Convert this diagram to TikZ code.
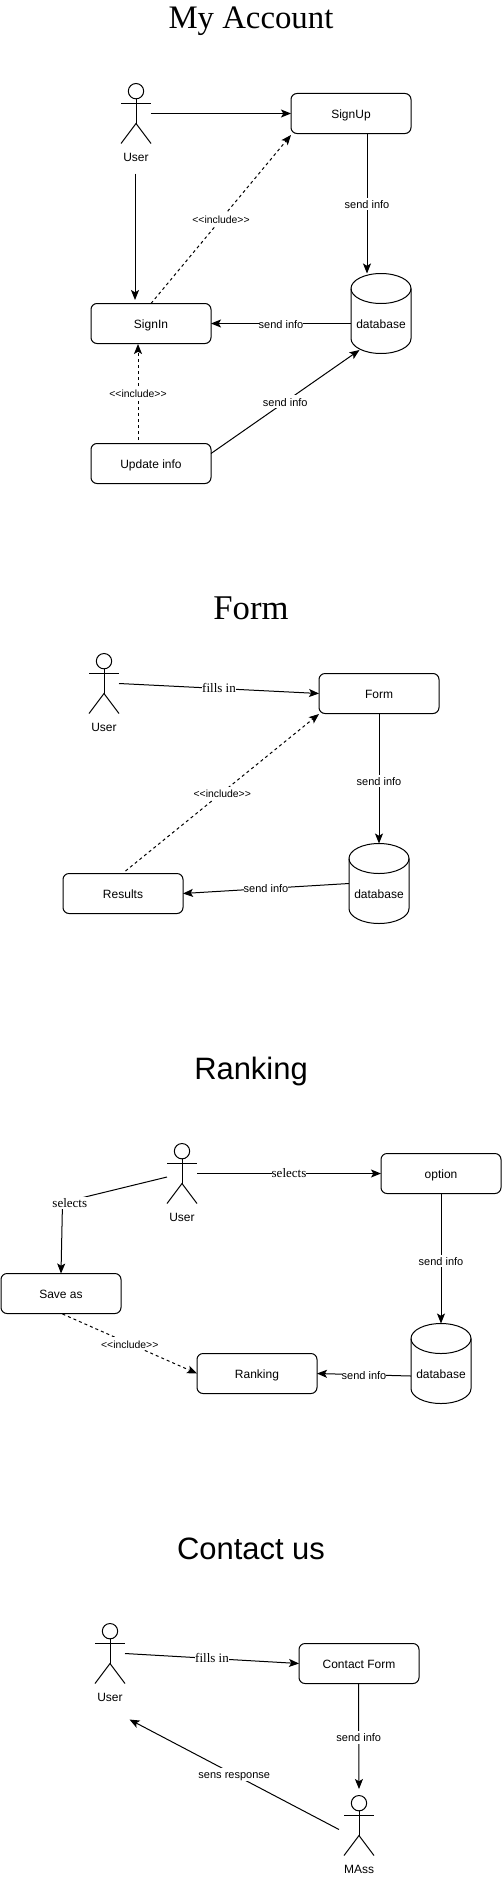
\documentclass[tikz,border=0pt]{standalone}
\usepackage{fontspec}
\setmainfont{Liberation Sans}
\newfontfamily\serifface{Liberation Serif}
\usetikzlibrary{arrows.meta}
\newcommand{\pxfont}[1]{\fontsize{#1}{#1}\selectfont}
\tikzset{
  x=0.75pt,y=-0.75pt,
  base/.style={line width=0.75pt,draw=black},
  ubox/.style={base,rounded corners=4.5pt,minimum width=90pt,minimum height=30pt,inner sep=0pt,outer sep=0pt,font=\pxfont{9pt},text height=9.2pt,text depth=2pt},
  frame/.style={inner sep=0pt,outer sep=0pt},
  plain/.style={inner sep=0pt,outer sep=0pt,font=\pxfont{9pt},text height=9.2pt,text depth=2pt},
  flow/.style={base,-{Stealth[length=7.5pt,width=6pt,inset=1.7pt]}},
  dflow/.style={flow,dash pattern=on 2.25pt off 2.25pt},
  lab/.style={fill=white,inner sep=0pt,outer sep=0pt,font=\pxfont{8.25pt},text height=7.9pt,text depth=1.5pt},
  inc/.style={lab,font=\pxfont{7.8pt}},
  slab/.style={lab,font=\serifface\pxfont{9.75pt}},
  serif title/.style={inner sep=0pt,anchor=base,font=\serifface\pxfont{24.6pt}},
  form title/.style={inner sep=0pt,anchor=base,font=\serifface\pxfont{26pt}},
  sans title/.style={inner sep=0pt,anchor=base,font=\pxfont{23.2pt}},
}
% actor: invisible frame 30x60 with a stick figure, caption below
\newcommand{\actorfig}[4]{% name, x, y, caption
  \node[frame,minimum width=22.5pt,minimum height=45pt] (#1) at (#2,#3) {};
  \draw[base] ([yshift=-5.75pt]#1.north) circle (5.75pt);
  \draw[base] (#1.west |- 0,#3-10) -- (#1.east |- 0,#3-10);
  \draw[base] ([yshift=-11.5pt]#1.north) -- (#2,#3+10);
  \draw[base] (#1.south west) -- (#2,#3+10) -- (#1.south east);
  \node[plain] (#1cap) at (#2,#3+43) {#4};
}
% cylinder: frame 60x80, text sits 10px under the centre
\newcommand{\cylfig}[3]{% name, x, y
  \node[frame,minimum width=45pt,minimum height=60pt] (#1) at (#2,#3) {};
  \draw[base,fill=white] ([yshift=-11.25pt]#1.north west) arc[start angle=180,end angle=0,x radius=22.5pt,y radius=11.25pt]
     -- ([yshift=11.25pt]#1.south east) arc[start angle=0,end angle=-180,x radius=22.5pt,y radius=11.25pt] -- cycle;
  \draw[base] ([yshift=-11.25pt]#1.north west) arc[start angle=180,end angle=360,x radius=22.5pt,y radius=11.25pt];
  \node[plain] (#1txt) at (#2,#3+10) {database};
}
\begin{document}
\begin{tikzpicture}
\useasboundingbox[fill=white] (-0.5,0) rectangle (500.5,1877);

% --- My Account
\node[serif title] (t1) at (250.5,28.5) {My Account};
\actorfig{a1}{135.5}{113.5}{User}
\node[ubox] (su) at (350.5,113.5) {SignUp};
\node[ubox] (si) at (150.5,323.5) {SignIn};
\node[ubox] (up) at (150.5,463.5) {Update info};
\cylfig{db1}{380.5}{313.5}
\draw[flow] (a1.east) -- (su.west);
\draw[flow] ([shift={(-1,30)}]a1.south) -- ([shift={(-16,-3.5)}]si.north);
\draw[flow] ([shift={(16,0)}]su.south) -- node[lab,pos=0.504]{send info} ([shift={(-14,0)}]db1.north);
\draw[dflow] (si.north) -- node[inc,pos=0.5]{<{}<include>{}>} ([shift={(0,1.5)}]su.south west);
\draw[flow] ([shift={(0,10)}]db1.west) -- node[lab,pos=0.5,shift={(0,1)}]{send info} (si.east);
\draw[dflow] ([shift={(-13,-3.5)}]up.north) -- node[inc,pos=0.49]{<{}<include>{}>} ([shift={(-13,0.5)}]si.south);
\draw[flow] ([shift={(0,-10)}]up.east) -- node[lab,pos=0.5]{send info} ([shift={(-21.5,-3.5)}]db1.south);

% --- Form
\node[form title] (t2) at (250.5,619.5) {Form};
\actorfig{a2}{103.5}{683.5}{User}
\node[ubox] (fo) at (378.5,693.5) {Form};
\node[ubox] (re) at (122.5,893.5) {Results};
\cylfig{db2}{378.5}{883.5}
\draw[flow] (a2.east) -- node[slab,pos=0.5]{fills in} (fo.west);
\draw[flow] (fo.south) -- node[lab,pos=0.52]{send info} (db2.north);
\draw[flow] (db2.west) -- node[lab,pos=0.5]{send info} (re.east);
\draw[dflow] ([shift={(2.5,-2.5)}]re.north) -- node[inc,pos=0.5,shift={(0,1)}]{<{}<include>{}>} ([shift={(0,0.5)}]fo.south west);

% --- Ranking
\node[sans title] (t3) at (250.5,1079) {Ranking};
\actorfig{a3}{181.5}{1173.5}{User}
\node[ubox] (op) at (440.5,1173.5) {option};
\node[ubox] (sa) at (60.5,1293.5) {Save as};
\node[ubox] (ra) at (256.5,1373.5) {Ranking};
\cylfig{db3}{440.5}{1363.5}
\coordinate (bend) at (62,1202.5);
\draw[flow] (a3.east) -- node[slab,pos=0.5]{selects} (op.west);
\draw[flow] ([shift={(0,3.5)}]a3.west) -- (bend) -- (sa.north);
\node[slab] (sel) at (69.3,1203) {selects};
\draw[dflow] ([shift={(1.5,0.5)}]sa.south) -- node[inc,pos=0.5]{<{}<include>{}>} (ra.west);
\draw[flow] (op.south) -- node[lab,pos=0.52]{send info} (db3.north);
\draw[flow] ([shift={(0,12.5)}]db3.west) -- node[lab,pos=0.5]{send info} (ra.east);

% --- Contact us
\node[sans title] (t4) at (250.5,1559) {Contact us};
\actorfig{a4}{109.5}{1653.5}{User}
\node[ubox] (cf) at (358.5,1663.5) {Contact Form};
\actorfig{a5}{358.5}{1825.5}{MAss}
\draw[flow] (a4.east) -- node[slab,pos=0.5]{fills in} (cf.west);
\draw[flow] ([shift={(-0.5,0)}]cf.south) -- node[lab,pos=0.51]{send info} ([shift={(0,-6.5)}]a5.north);
\draw[flow] ([shift={(-5,4)}]a5.west) -- node[lab,pos=0.5]{sens response} ([shift={(19.5,36)}]a4.south);
\end{tikzpicture}
\end{document}
